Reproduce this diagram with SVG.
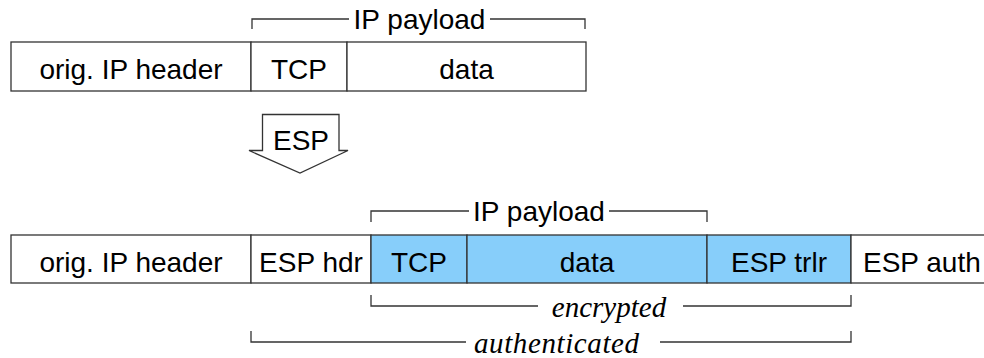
<svg xmlns="http://www.w3.org/2000/svg" width="984" height="358" viewBox="0 0 984 358">
<style>
.box{fill:#fff;stroke:#333;stroke-width:1.3}
.enc{fill:#87cefa;stroke:#333;stroke-width:1.3}
.ln{fill:none;stroke:#333;stroke-width:1.3}
.t{font-family:"Liberation Sans",Arial,sans-serif;font-size:28px;fill:#000;text-anchor:middle}
.i{font-family:"Liberation Serif","Times New Roman",serif;font-style:italic;font-size:29px;fill:#000;text-anchor:middle}
</style>
<rect width="984" height="358" fill="#fff"/>
<g id="top-packet">
  <g id="top-orig-ip-header"><rect class="box" x="11" y="42" width="240" height="49"/><text class="t" x="131" y="79">orig. IP header</text></g>
  <g id="top-tcp"><rect class="box" x="251" y="42" width="96" height="49"/><text class="t" x="299" y="79">TCP</text></g>
  <g id="top-data"><rect class="box" x="347" y="42" width="239" height="49"/><text class="t" x="466.5" y="79">data</text></g>
  <g id="top-ip-payload"><path class="ln" d="M252,29V19H349M490,19H585V29"/><text class="t" x="419.5" y="29">IP payload</text></g>
</g>
<g id="connectors">
  <g id="esp-arrow"><path class="ln" d="M262.5,150.5V114.5H339V150.5H348L300,173L249,150.5Z"/><text class="t" x="301" y="150">ESP</text></g>
</g>
<g id="bottom-packet">
  <g id="bot-orig-ip-header"><rect class="box" x="11" y="235" width="240" height="48"/><text class="t" x="131" y="272">orig. IP header</text></g>
  <g id="bot-esp-hdr"><rect class="box" x="251" y="235" width="120" height="48"/><text class="t" x="311" y="272">ESP hdr</text></g>
  <g id="bot-tcp"><rect class="enc" x="371" y="235" width="96" height="48"/><text class="t" x="419" y="272">TCP</text></g>
  <g id="bot-data"><rect class="enc" x="467" y="235" width="240" height="48"/><text class="t" x="587" y="272">data</text></g>
  <g id="bot-esp-trlr"><rect class="enc" x="707" y="235" width="144" height="48"/><text class="t" x="779" y="272">ESP trlr</text></g>
  <g id="bot-esp-auth"><rect class="box" x="851" y="235" width="150" height="48"/><text class="t" x="863" y="272" style="text-anchor:start">ESP auth</text></g>
  <g id="bot-ip-payload"><path class="ln" d="M371,222V211H469M609,211H707V222"/><text class="t" x="539" y="221">IP payload</text></g>
  <g id="encrypted"><path class="ln" d="M371,295V306H538M683,306H851V295"/><text class="i" x="609" y="317">encrypted</text></g>
  <g id="authenticated"><path class="ln" d="M251,331V342H466M660,342H851V331"/><text class="i" x="556.5" y="353" textLength="165" lengthAdjust="spacing">authenticated</text></g>
</g>
</svg>
